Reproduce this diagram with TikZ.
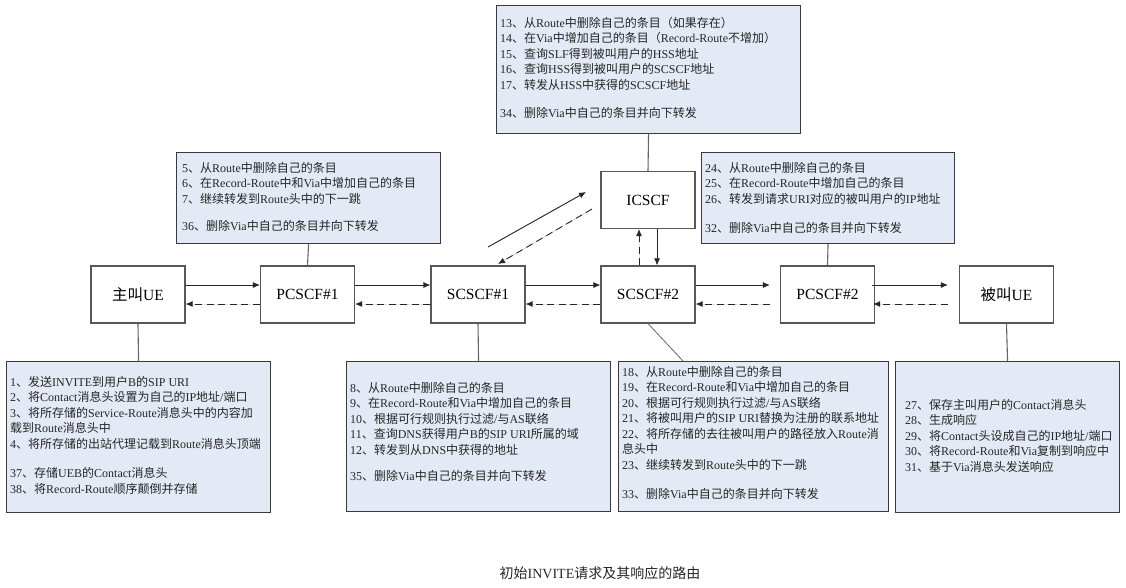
\documentclass[tikz,border=0pt]{standalone}
\usepackage{fontspec}
\setmainfont{Liberation Serif}
\newfontfamily\cjkf{Noto Sans CJK SC}
\newfontfamily\latf{Liberation Serif}
\usetikzlibrary{arrows.meta}
\newXeTeXintercharclass\CJKcls
\makeatletter
\count@="4E00
\loop\XeTeXcharclass\count@=\CJKcls\advance\count@ by 1 \ifnum\count@<"A000 \repeat
\count@="3000
\loop\XeTeXcharclass\count@=\CJKcls\advance\count@ by 1 \ifnum\count@<"3040 \repeat
\count@="FF00
\loop\XeTeXcharclass\count@=\CJKcls\advance\count@ by 1 \ifnum\count@<"FFF0 \repeat
\makeatother
\XeTeXinterchartoks 0 \CJKcls = {\cjkf}
\XeTeXinterchartoks 4095 \CJKcls = {\cjkf}
\XeTeXinterchartoks \CJKcls 0 = {\latf}
\XeTeXinterchartokenstate=1
\definecolor{boxfill}{HTML}{E4EAF5}
\definecolor{edge}{HTML}{3A3A3A}
\begin{document}
\begin{tikzpicture}[x=1pt,y=-1pt,
  ent/.style={draw=edge!85, line width=1.1pt, fill=white, minimum width=94pt, minimum height=57pt, inner sep=0pt, font=\fontsize{15.5}{18}\selectfont},
  infobox/.style={draw=edge, line width=1.1pt, fill=boxfill, inner sep=0pt, anchor=north west},
  txt/.style={anchor=north west, align=left, inner sep=0pt, font=\fontsize{12}{15.5}\selectfont, text=black!85},
  link/.style={draw=black!60, line width=1.1pt},
  req/.style={-{Latex[length=7pt,width=6pt]}, line width=0.9pt, draw=black!85, fill=black!85},
  rsp/.style={req, dash pattern=on 7pt off 4.5pt}]
\useasboundingbox (0,0) rectangle (1126,587);
% info boxes
\node (tb) [infobox, minimum width=304pt, minimum height=128pt] at (496,5) {};
\node (ul) [infobox, minimum width=264pt, minimum height=91pt] at (176,152) {};
\node (ur) [infobox, minimum width=253pt, minimum height=91pt] at (701,152) {};
\node (bl) [infobox, minimum width=264pt, minimum height=151pt] at (6,361) {};
\node (bm) [infobox, minimum width=264pt, minimum height=150pt] at (346,361) {};
\node (bc) [infobox, minimum width=270pt, minimum height=150pt] at (618,361) {};
\node (br) [infobox, minimum width=224pt, minimum height=151pt] at (895,361) {};
% texts
\node (ttb) [txt] at (500,17) {13、从Route中删除自己的条目（如果存在）\\14、在Via中增加自己的条目（Record-Route不增加）\\15、查询SLF得到被叫用户的HSS地址\\16、查询HSS得到被叫用户的SCSCF地址\\17、转发从HSS中获得的SCSCF地址\\[12.5pt]34、删除Via中自己的条目并向下转发};
\node (tul) [txt] at (182,162) {5、从Route中删除自己的条目\\6、在Record-Route中和Via中增加自己的条目\\7、继续转发到Route头中的下一跳\\[11.5pt]36、删除Via中自己的条目并向下转发};
\node (tur) [txt] at (705,162) {24、从Route中删除自己的条目\\25、在Record-Route中增加自己的条目\\26、转发到请求URI对应的被叫用户的IP地址\\[14pt]32、删除Via中自己的条目并向下转发};
\node (tbl) [txt] at (10,376) {1、发送INVITE到用户B的SIP URI\\2、将Contact消息头设置为自己的IP地址/端口\\3、将所存储的Service-Route消息头中的内容加\\载到Route消息头中\\4、将所存储的出站代理记载到Route消息头顶端\\[14pt]37、存储UEB的Contact消息头\\38、将Record-Route顺序颠倒并存储};
\node (tbm) [txt] at (350,382) {8、从Route中删除自己的条目\\9、在Record-Route和Via中增加自己的条目\\10、根据可行规则执行过滤/与AS联络\\11、查询DNS获得用户B的SIP URI所属的域\\12、转发到从DNS中获得的地址\\[10.5pt]35、删除Via中自己的条目并向下转发};
\node (tbc) [txt] at (622,366) {18、从Route中删除自己的条目\\19、在Record-Route和Via中增加自己的条目\\20、根据可行规则执行过滤/与AS联络\\21、将被叫用户的SIP URI替换为注册的联系地址\\22、将所存储的去往被叫用户的路径放入Route消\\息头中\\23、继续转发到Route头中的下一跳\\[14pt]33、删除Via中自己的条目并向下转发};
\node (tbr) [txt] at (905,399) {27、保存主叫用户的Contact消息头\\28、生成响应\\29、将Contact头设成自己的IP地址/端口\\30、将Record-Route和Via复制到响应中\\31、基于Via消息头发送响应};
% entities
\node (ue1) [ent] at (138,294.5) {主叫UE};
\node (p1) [ent] at (307.5,294.5) {PCSCF\#1};
\node (s1) [ent] at (478,294.5) {SCSCF\#1};
\node (ic) [ent] at (648,200) {ICSCF};
\node (s2) [ent] at (648,294.5) {SCSCF\#2};
\node (p2) [ent] at (827.5,294.5) {PCSCF\#2};
\node (ue2) [ent] at (1006.5,294.5) {被叫UE};
% links
\coordinate (bcl) at (683,361);
\draw[link] (tb.south) -- (ic.north);
\draw[link] (ul.south) -- (p1.north);
\draw[link] (ur.south) -- (p2.north);
\draw[link] (ue1.south) -- (bl.north);
\draw[link] (s1.south) -- (bm.north);
\draw[link, line width=0.8pt] (s2.south) -- (bcl);
\draw[link] (ue2.south) -- (br.north);
% requests and responses
\draw[req] ([yshift=9.5pt]ue1.east) -- ([yshift=9.5pt]p1.west);
\draw[rsp] ([yshift=-9.5pt]p1.west) -- ([yshift=-9.5pt]ue1.east);
\draw[req] ([yshift=9.5pt]p1.east) -- ([yshift=9.5pt]s1.west);
\draw[rsp] ([yshift=-9.5pt]s1.west) -- ([yshift=-9.5pt]p1.east);
\draw[req] ([yshift=9.5pt]s1.east) -- ([yshift=9.5pt]s2.west);
\draw[rsp] ([yshift=-9.5pt]s2.west) -- ([yshift=-9.5pt]s1.east);
\draw[req] ([yshift=9.5pt]s2.east) -- ([yshift=9.5pt,xshift=-10pt]p2.west);
\draw[rsp] ([yshift=-9.5pt,xshift=-10pt]p2.west) -- ([yshift=-9.5pt]s2.east);
\draw[req] ([yshift=9.5pt,xshift=-3pt]p2.east) -- ([yshift=9.5pt,xshift=-11pt]ue2.west);
\draw[rsp] ([yshift=-9.5pt,xshift=-11pt]ue2.west) -- ([yshift=-9.5pt,xshift=-2pt]p2.east);
\draw[req] ([xshift=9pt]ic.south) -- ([xshift=9pt]s2.north);
\draw[rsp] ([xshift=-9pt]s2.north) -- ([xshift=-9pt]ic.south);
\coordinate (d1) at (488,247);
\coordinate (d2) at (586,192);
\coordinate (d3) at (592,209);
\coordinate (d4) at (498,264);
\draw[req] (d1) -- (d2);
\draw[rsp] (d3) -- (d4);
% caption
\node (cap) [font=\fontsize{14}{16}\selectfont, text=black!85] at (600,573) {初始INVITE请求及其响应的路由};
\end{tikzpicture}
\end{document}
